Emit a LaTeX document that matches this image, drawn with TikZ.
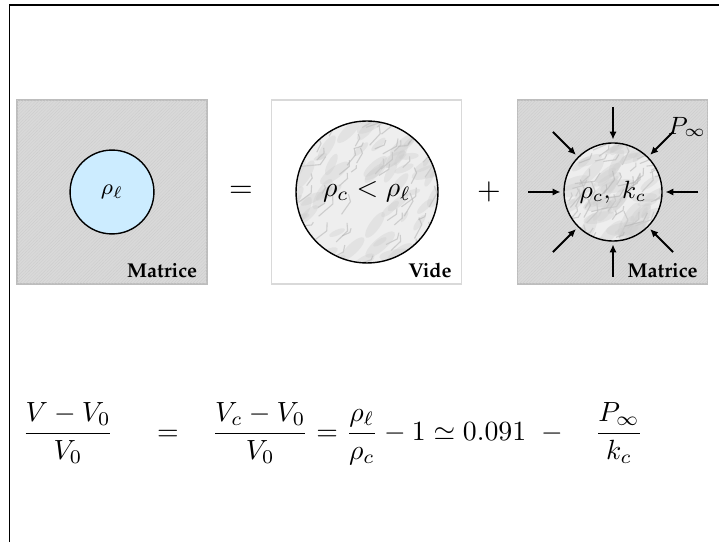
\documentclass[tikz,border=0pt]{standalone}
\usepackage[T1,TU]{fontenc}
\usetikzlibrary{arrows.meta, calc, patterns.meta}
\definecolor{liquid}{HTML}{CCECFF}
\definecolor{matgray}{HTML}{D9D9D9}
\definecolor{hatch}{HTML}{CDCDCD}
\definecolor{edgegray}{HTML}{BDBDBD}
\newcommand{\palb}{\fontencoding{T1}\fontfamily{ppl}\fontseries{b}\selectfont}

\begin{document}
\begin{tikzpicture}[
  x=0.36pt, y=0.36pt,
  >={Latex[length=2.8pt, width=2.6pt]},
  panel/.style={minimum width=68.4pt, minimum height=66.2pt, inner sep=0pt},
  matbox/.style={panel, draw=edgegray, line width=0.5pt, fill=matgray,
    postaction={pattern={Lines[angle=45, distance=0.8pt, line width=0.15pt]}, pattern color=hatch}},
  voidbox/.style={panel, draw=gray!30, line width=0.5pt, fill=white},
  ball/.style={circle, draw=black, line width=0.5pt, inner sep=0pt},
  tag/.style={anchor=south east, inner sep=0pt, font=\palb\fontsize{7.2}{8}\selectfont},
  press/.style={->, line width=0.7pt, shorten >=1pt},
  vein/.style={gray!60, line width=0.4pt, opacity=0.55},
  eqn/.style={anchor=base, inner sep=0pt},
]

\useasboundingbox (0,0) rectangle (719,542);

% Frame
\draw[line width=0.6pt] (9.5,0) -- (9.5,537) -- (719,537);

% Panels
\node[matbox] (pA) at (112,350) {};
\node[voidbox] (pB) at (366.5,350) {};
\node[matbox] (pC) at (612.5,350) {};

% Liquid drop
\node[ball, fill=liquid, minimum size=30.2pt, font=\footnotesize] (cA) at (112,350) {$\rho_\ell$};

% Marble texture of the solid phase
\coordinate (mB) at (367,350);
\coordinate (mC) at (613,350);
\pgfmathsetseed{11}
\foreach \m/\r in {mB/71, mC/49}{
  \begin{scope}
    \clip (\m) circle[radius=\r];
    \fill[gray!13] (\m) circle[radius=\r];
    \foreach \k in {1,...,60}{
      \pgfmathsetmacro\px{rand*\r}
      \pgfmathsetmacro\py{rand*\r}
      \pgfmathsetmacro\ang{35+rand*30}
      \pgfmathsetmacro\len{6+rnd*14}
      \fill[gray!40, opacity=0.35, rotate around={\ang:($(\m)+(\px,\py)$)}]
        ($(\m)+(\px,\py)$) ellipse[x radius=\len, y radius=\len/3];
      \draw[vein] ($(\m)+(\py,\px)$) -- ++(\ang:\len) -- ++(\ang+50:\len/2);
    }
  \end{scope}
}

\node[ball, minimum size=51.1pt] (cB) at (mB) {$\rho_c < \rho_\ell$};
\node[ball, minimum size=35.3pt, font=\small] (cC) at (mC) {$\rho_c,\; k_c$};

% Pressure arrows
\foreach \a in {0,45,...,315}
  \draw[press] ($(cC)+(\a:85)$) -- (cC.\a);
\node[font=\fontsize{9}{11}\selectfont] (pinf) at (687,415) {$P_\infty$};

% Panel tags
\node[tag] (tA) at ($(pA.south east)+(-10,6)$) {Matrice};
\node[tag] (tB) at ($(pB.south east)+(-10,6)$) {Vide};
\node[tag] (tC) at ($(pC.south east)+(-10,6)$) {Matrice};

% Signs between panels
\node[font=\fontsize{11}{13}\selectfont] (eqA) at (241,350) {$=$};
\node[font=\fontsize{11}{13}\selectfont] (plusA) at (489,350) {$+$};

% Volume balance
\node[eqn] (lhs) at (68,102) {$\displaystyle\frac{V-V_0}{V_0}$};
\node[eqn] (eqB) at (168,102) {$=$};
\node[eqn] (mid) at (369,102) {$\displaystyle\frac{V_c-V_0}{V_0}=\frac{\rho_\ell}{\rho_c}-1\simeq 0.091$};
\node[eqn] (minus) at (552,102) {$-$};
\node[eqn] (rhs) at (619,102) {$\displaystyle\frac{P_\infty}{k_c}$};

\end{tikzpicture}
\end{document}
